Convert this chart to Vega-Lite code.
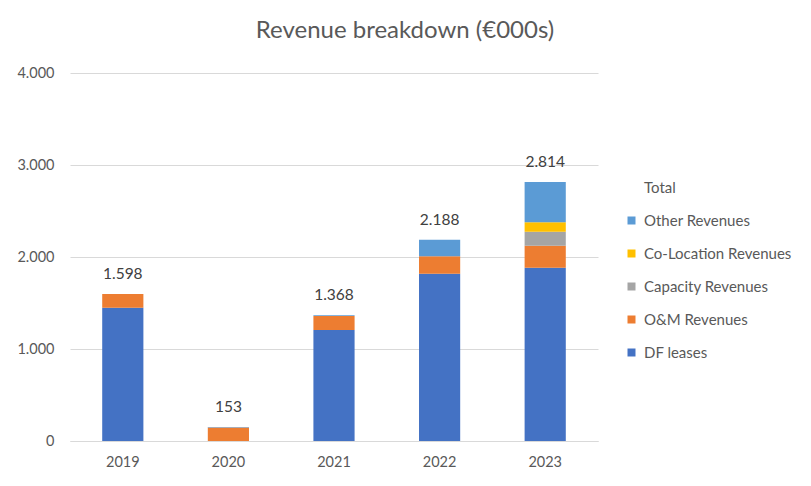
{
  "$schema": "https://vega.github.io/schema/vega-lite/v6.json",
  "width": 528,
  "height": 368,
  "autosize": {"type": "none"},
  "padding": {"left": 70, "top": 73, "right": 213, "bottom": 45},
  "background": "white",
  "title": {
    "text": "Revenue breakdown (€000s)",
    "fontSize": 24,
    "font": "Lato",
    "fontWeight": "normal",
    "color": "#595959",
    "anchor": "middle",
    "dx": 71,
    "offset": 22
  },
  "data": {
    "values": [
      {"year": "2019", "series": "DF leases", "value": 1449},
      {"year": "2019", "series": "O&M Revenues", "value": 149},
      {"year": "2020", "series": "O&M Revenues", "value": 148},
      {"year": "2020", "series": "Other Revenues", "value": 5},
      {"year": "2021", "series": "DF leases", "value": 1207},
      {"year": "2021", "series": "O&M Revenues", "value": 152},
      {"year": "2021", "series": "Other Revenues", "value": 9},
      {"year": "2022", "series": "DF leases", "value": 1819},
      {"year": "2022", "series": "O&M Revenues", "value": 188},
      {"year": "2022", "series": "Other Revenues", "value": 181},
      {"year": "2023", "series": "DF leases", "value": 1884},
      {"year": "2023", "series": "O&M Revenues", "value": 239},
      {"year": "2023", "series": "Capacity Revenues", "value": 152},
      {"year": "2023", "series": "Co-Location Revenues", "value": 102},
      {"year": "2023", "series": "Other Revenues", "value": 437}
    ]
  },
  "layer": [
    {
      "mark": {"type": "bar"},
      "transform": [
        {"calculate": "indexof(['DF leases','O&M Revenues','Capacity Revenues','Co-Location Revenues','Other Revenues'], datum.series)", "as": "stackOrder"}
      ],
      "encoding": {
        "x": {
          "field": "year", "type": "nominal",
          "scale": {"paddingInner": 0.61, "paddingOuter": 0.305},
          "axis": {"title": null, "labelAngle": 0, "ticks": false, "domainColor": "#D9D9D9", "labelPadding": 14}
        },
        "y": {
          "field": "value", "type": "quantitative", "aggregate": "sum",
          "scale": {"domain": [0, 4000]},
          "axis": {"title": null, "values": [0, 1000, 2000, 3000, 4000], "format": ",.0f", "domain": false, "ticks": false, "labelPadding": 16, "gridColor": "#D9D9D9"}
        },
        "color": {
          "field": "series", "type": "nominal",
          "scale": {
            "domain": ["Total", "Other Revenues", "Co-Location Revenues", "Capacity Revenues", "O&M Revenues", "DF leases"],
            "range": ["transparent", "#5B9BD5", "#FFC000", "#A5A5A5", "#ED7D31", "#4472C4"]
          },
          "legend": {"title": null, "orient": "none", "legendX": 554, "legendY": 107, "padding": 0, "symbolType": "square", "symbolSize": 64, "labelFontSize": 15, "rowPadding": 17, "labelOffset": 5, "symbolStrokeWidth": 0, "labelColor": "#595959", "labelFont": "Lato"}
        },
        "order": {"field": "stackOrder", "type": "quantitative", "sort": "ascending"}
      }
    },
    {
      "transform": [
        {"aggregate": [{"op": "sum", "field": "value", "as": "total"}], "groupby": ["year"]}
      ],
      "mark": {"type": "text", "baseline": "bottom", "dy": -12, "fontSize": 15.5, "font": "Lato", "color": "#404040"},
      "encoding": {
        "x": {"field": "year", "type": "nominal"},
        "y": {"field": "total", "type": "quantitative"},
        "text": {"field": "total", "type": "quantitative", "format": ",.0f"}
      }
    }
  ],
  "config": {
    "locale": {"number": {"decimal": ",", "thousands": ".", "grouping": [3], "currency": ["€", ""]}},
    "view": {"stroke": null},
    "axis": {"labelFont": "Lato", "labelFontSize": 14.5, "labelColor": "#595959"}
  }
}
